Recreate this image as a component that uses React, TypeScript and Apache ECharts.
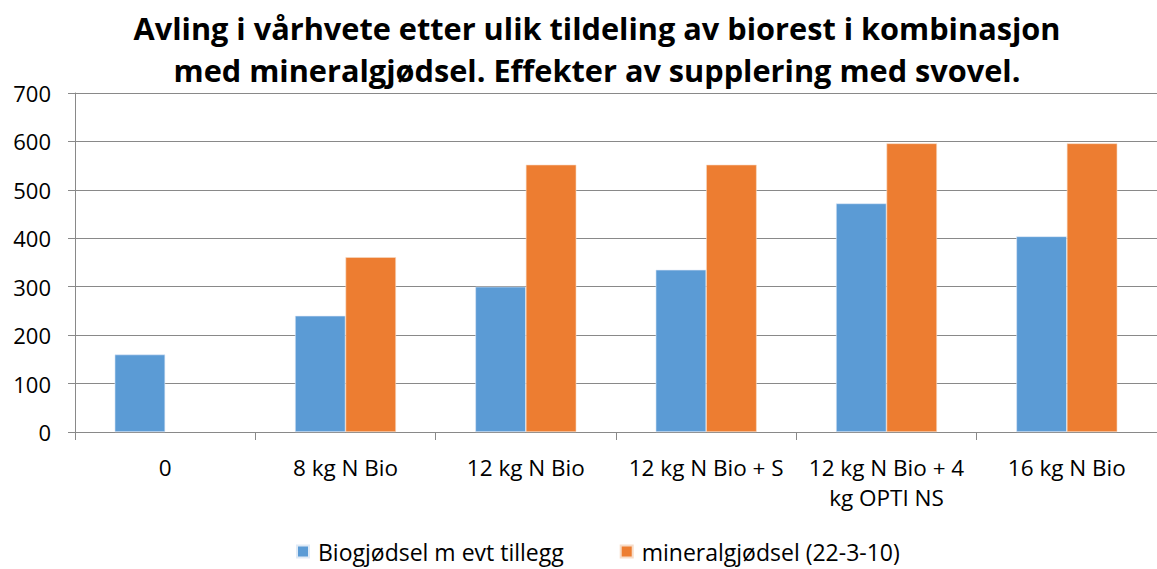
import React, { useEffect, useRef } from "react";
import * as echarts from "echarts";

const titleLines = [
  "Avling i vårhvete etter ulik tildeling av biorest i kombinasjon",
  "med mineralgjødsel. Effekter av supplering med svovel.",
];
const categories = [
  "0",
  "8 kg N Bio",
  "12 kg N Bio",
  "12 kg N Bio + S",
  "12 kg N Bio + 4\nkg OPTI NS",
  "16 kg N Bio",
];
const seriesNames = ["Biogjødsel m evt tillegg", "mineralgjødsel (22-3-10)"];
const bioValues = [160, 240, 300, 335, 472, 404];
const mineralValues: (number | null)[] = [null, 361, 552, 552, 596, 596];
const colors = ["#5B9BD5", "#ED7D31"];

const FONT = "'Open Sans', sans-serif";

export default function App() {
  const ref = useRef<HTMLDivElement>(null);
  useEffect(() => {
    if (!ref.current) return;
    const chart = echarts.init(ref.current, null, { renderer: "svg" });
    chart.setOption({
      animation: false,
      backgroundColor: "#ffffff",
      textStyle: { fontFamily: FONT },
      title: {
        text: titleLines.join("\n"),
        top: 2,
        left: 592,
        textAlign: "center",
        textStyle: {
          fontFamily: FONT,
          fontWeight: "bold",
          fontSize: 30.7,
          lineHeight: 42,
          color: "#000000",
        },
      },
      legend: {
        bottom: 1,
        left: 291,
        itemWidth: 12,
        itemHeight: 12,
        itemGap: 56,
        icon: "rect",
        textStyle: { fontFamily: FONT, fontSize: 23, color: "#000", padding: [0, 0, 0, 4] },
        data: seriesNames,
      },
      grid: { left: 75, right: -4, top: 93, bottom: 137, containLabel: false },
      xAxis: {
        type: "category",
        data: categories,
        axisLine: { lineStyle: { color: "#898989", width: 1 } },
        axisTick: { show: true, length: 8, lineStyle: { color: "#898989" } },
        axisLabel: {
          fontFamily: FONT,
          fontSize: 22.5,
          color: "#000",
          margin: 20,
          lineHeight: 30,
          interval: 0,
        },
      },
      yAxis: {
        type: "value",
        min: 0,
        max: 700,
        interval: 100,
        axisLine: { show: true, lineStyle: { color: "#898989" } },
        axisTick: { show: true, length: 7, lineStyle: { color: "#898989" } },
        splitLine: { lineStyle: { color: "#898989", width: 1 } },
        axisLabel: { fontFamily: FONT, fontSize: 22, color: "#000", margin: 24 },
      },
      series: [
        {
          name: seriesNames[0],
          type: "bar",
          data: bioValues,
          itemStyle: { color: colors[0], borderColor: "#dfeaf6", borderWidth: 0.6 },
          barGap: "0%",
          barCategoryGap: "44%",
        },
        {
          name: seriesNames[1],
          type: "bar",
          data: mineralValues,
          itemStyle: { color: colors[1], borderColor: "#f7dcc8", borderWidth: 0.6 },
          barGap: "0%",
          barCategoryGap: "44%",
        },
      ],
    });
    return () => chart.dispose();
  }, []);
  return (
    <div
      ref={ref}
      style={{ position: "absolute", left: 0, top: 0, width: 1157, height: 569 }}
    />
  );
}
